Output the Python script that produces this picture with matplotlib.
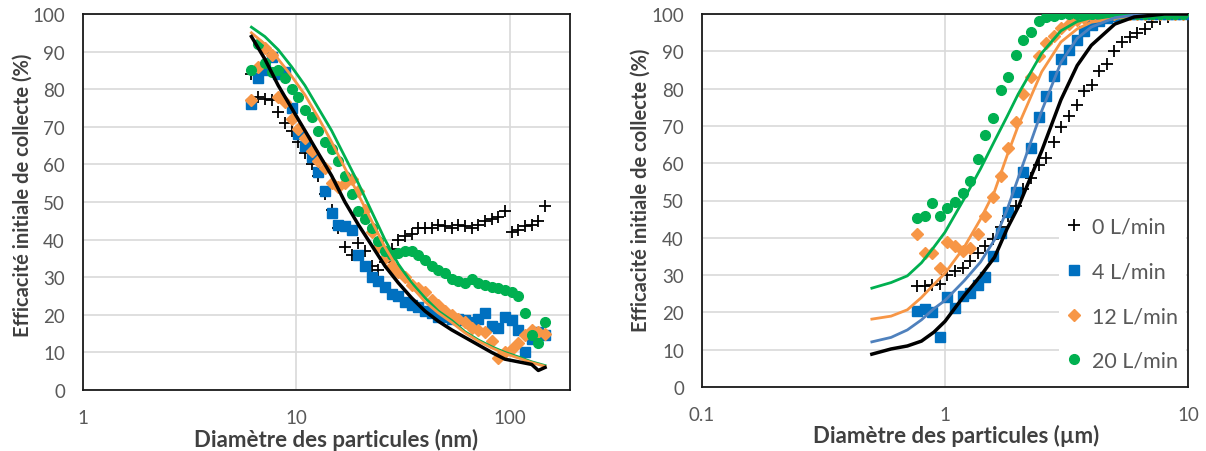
import matplotlib
matplotlib.use("Agg")
import matplotlib.pyplot as plt
from matplotlib.ticker import FixedLocator, FixedFormatter, NullLocator

plt.rcParams['font.family'] = ['Lato', 'DejaVu Sans']

# ---------- left panel : SMPS (nm) ----------
d_nm = [6.15, 6.61, 7.11, 7.64, 8.21, 8.82, 9.48, 10.19, 10.95, 11.76, 12.64, 13.58,
        14.60, 15.69, 16.86, 18.11, 19.47, 20.92, 22.48, 24.15, 25.95, 27.89, 29.97,
        32.20, 34.60, 37.19, 39.96, 42.94, 46.14, 49.58, 53.28, 57.25, 61.52, 66.11,
        71.04, 76.34, 82.03, 88.15, 94.72, 101.8, 109.4, 117.5, 126.3, 135.7, 145.9]
nm_0 = [84, 78, 77.5, 77, 74, 71, 69, 66, 63, 60, 57, 52, 48, 43, 38, 36, 39, 37, 33, 32,
        34, 37.5, 40, 41, 41.5, 43, 43, 43, 44, 43.5, 43, 44, 43.5, 43, 44, 45, 45.5, 46,
        47.5, 42, 42.5, 43.5, 44, 45, 49]
nm_4 = [76, 83, 85, 88.5, 84, 84.5, 75, 68, 65, 62, 58, 53, 47, 44, 43.5, 42.5, 36, 33,
        30, 29, 27.5, 25.5, 25, 23.5, 22.5, 22, 21, 20.5, 19.5, 19.5, 19, 19, 18.5, 18,
        19, 20.5, 17, 16.5, 19.5, 18.5, 16, 10, 13.5, 15.5, 14.5]
nm_12 = [77, 86, 91, 89, 78, 76.5, 72, 69.5, 67, 63.5, 61, 59, 55, 54, 55, 56, 53, 48,
         42, 38, 35, 33, 31.5, 30, 28, 27, 26, 24, 22.5, 21, 20, 19, 18, 16.5, 16, 15.5,
         13, 8.5, 10, 11, 12.5, 14.5, 16, 15.5, 15]
nm_20 = [85, 92, 87, 84.5, 85, 83, 80, 78, 74.5, 72.5, 69, 66, 64, 61, 57, 52, 47.5, 45.5,
         43, 39.5, 37, 36, 36.5, 37, 37, 36, 34.5, 33, 32, 31, 29.5, 29, 28.5, 29.5, 28.5,
         28, 27.5, 27, 26.5, 26, 25, 20.5, 14.5, 12.5, 18]

d_nm_model = [6.15, 7.11, 8.21, 9.48, 10.95, 12.64, 14.60, 16.86, 19.47, 22.48, 25.95,
              29.97, 34.60, 39.96, 46.14, 53.28, 61.52, 71.04, 82.03, 94.72, 109.4,
              126.3, 135.7, 145.9]
nm_model_0 = [94, 88, 81, 75, 69, 63, 57, 50, 44, 38.5, 33, 28.5, 24.5, 21, 18.3, 16, 14,
              12, 10, 8.2, 7.5, 6.8, 5.2, 6]
nm_model_12 = [95, 92, 88, 83.5, 78.5, 72.5, 66, 59, 52, 45, 38, 32, 27.5, 23.5, 20.5, 18,
               15.2, 13, 11.2, 9.7, 8.5, 7.3, 6.8, 6.3]
nm_model_20 = [96.5, 94, 90.5, 86, 81, 75, 69, 62, 55, 47.5, 40, 33.5, 28.5, 24.5, 21,
               18.5, 15.5, 13.3, 11.5, 10, 8.8, 7.5, 7, 6.5]

# ---------- right panel : APS (µm) ----------
d_um = [0.767, 0.824, 0.886, 0.952, 1.023, 1.100, 1.182, 1.270, 1.365, 1.466, 1.576,
        1.694, 1.820, 1.956, 2.102, 2.259, 2.427, 2.609, 2.803, 3.012, 3.236, 3.478,
        3.737, 4.017, 4.315, 4.638, 4.983, 5.356, 5.754, 6.184, 6.645, 7.141, 7.674,
        8.247, 8.861, 9.524]
um_0 = [27, 27, 27.4, 27.5, 30, 31, 32, 33.8, 35.8, 37.8, 39.7, 43, 45.8, 48.5, 53, 56,
        59.5, 61.5, 65.7, 69.7, 72.7, 75.5, 79.4, 81, 84.7, 86.6, 90, 92.5, 93.8, 95, 96,
        97.8, 98.7, 99.3, 100, 100]
um_4 = [20.5, 21, 20, 13.4, 24, 21.3, 24.5, 25.3, 27.3, 29.5, 35, 41.3, 47, 52.3, 57.6,
        64, 72.5, 78, 83.5, 88, 90.3, 93, 95.5, 97, 98, 99, 99.5, 100, 100, 100, 100, 100,
        100, 100, 100, 100]
um_12 = [41, 36, 36, 32, 39, 37.8, 36.5, 37.3, 41, 45.8, 51, 56.6, 64, 71, 78.5, 83,
         88.7, 92.2, 94.2, 96.2, 97.3, 98.3, 99, 99.5, 100, 100, 100, 100, 100, 100, 100,
         100, 100, 100, 100, 100]
um_20 = [45.3, 45.8, 49.3, 45.8, 48, 49.6, 52, 55.2, 61, 67.6, 72, 79.6, 83, 89, 93,
         95.2, 98.1, 99.2, 99.5, 100, 100, 100, 100, 100, 100, 100, 100, 100, 100, 100,
         100, 100, 100, 100, 100, 100]

d_um_model = [0.5, 0.6, 0.7, 0.8, 0.9, 1.0, 1.2, 1.4, 1.6, 1.8, 2.0, 2.5, 3, 3.5, 4, 5,
              6, 7, 8, 10]
um_model_0 = [8.8, 10.2, 11, 12.3, 14.7, 17.6, 24.5, 29.8, 34.8, 42.4, 48.2, 63.3, 77,
              86.2, 91.6, 97.3, 99.2, 99.6, 100, 100]
um_model_4 = [12.1, 13.3, 15.3, 18, 21, 23.2, 28.5, 33.5, 39.5, 47.5, 56, 74, 87, 93.5,
              96.5, 99, 99.7, 100, 100, 100]
um_model_12 = [18.2, 19, 20.7, 24, 27.5, 30.5, 37.5, 45, 52.5, 62, 70, 84.5, 92.5, 96,
               97.8, 98.8, 99.5, 99.8, 100, 100]
um_model_20 = [26.5, 28, 29.8, 33.3, 37.5, 41.5, 50.5, 58.5, 66, 72.5, 78.5, 89.5, 95.5,
               98, 99, 99.7, 100, 100, 100, 100]

labels = ["0 L/min", "4 L/min", "12 L/min", "20 L/min"]

c_black = "#000000"
c_blue = "#0070c0"
c_orange = "#f79646"
c_green = "#00b050"
c_blueline = "#4f81bd"
grid_c = "#d9d9d9"
tick_c = "#595959"
label_c = "#404040"

fig = plt.figure(figsize=(12.06, 4.52), dpi=100)
ax1 = fig.add_axes([83 / 1206, 61 / 452, 487 / 1206, 376 / 452])
ax2 = fig.add_axes([702 / 1206, 64 / 452, 486 / 1206, 373 / 452])


def style(ax, xmin, xmax, ticks, ticklabels, xlabel):
    ax.set_xscale("log")
    ax.set_xlim(xmin, xmax)
    ax.set_ylim(0, 100)
    ax.xaxis.set_major_locator(FixedLocator(ticks))
    ax.xaxis.set_major_formatter(FixedFormatter(ticklabels))
    ax.xaxis.set_minor_locator(NullLocator())
    ax.set_yticks(range(0, 101, 10))
    ax.grid(True, color=grid_c, linewidth=1.2, zorder=0)
    ax.set_axisbelow(True)
    ax.tick_params(axis="both", length=0, labelsize=13.5, colors=tick_c)
    ax.tick_params(axis="x", pad=14)
    ax.tick_params(axis="y", pad=13)
    for s in ax.spines.values():
        s.set_color("#1a1a1a")
        s.set_linewidth(1.3)
    ax.set_xlabel(xlabel, fontsize=16, fontweight="bold", color=label_c)
    ax.set_ylabel("Efficacité initiale de collecte (%)", fontsize=14.5,
                  fontweight="bold", color=label_c)


# left panel
ax1.plot(d_nm, nm_0, ls="none", marker="+", ms=9, mew=1.3, color=c_black, zorder=3)
ax1.plot(d_nm, nm_4, ls="none", marker="s", ms=6.5, color=c_blue, zorder=3)
ax1.plot(d_nm, nm_12, ls="none", marker="D", ms=6, color=c_orange, zorder=3)
ax1.plot(d_nm, nm_20, ls="none", marker="o", ms=7, color=c_green, zorder=3)
ax1.plot(d_nm_model, nm_model_20, color=c_green, lw=2, zorder=4)
ax1.plot(d_nm_model, nm_model_12, color=c_orange, lw=2, zorder=4)
ax1.plot(d_nm_model, nm_model_0, color=c_black, lw=2.5, zorder=5)
style(ax1, 1, 191, [1, 10, 100], ["1", "10", "100"], "Diamètre des particules (nm)")
ax1.xaxis.set_label_coords(0.52, -0.10)
ax1.yaxis.set_label_coords(-0.103, 0.52)

# right panel
h0, = ax2.plot(d_um, um_0, ls="none", marker="+", ms=9, mew=1.3, color=c_black, zorder=3)
h4, = ax2.plot(d_um, um_4, ls="none", marker="s", ms=6.5, color=c_blue, zorder=3)
h12, = ax2.plot(d_um, um_12, ls="none", marker="D", ms=6, color=c_orange, zorder=3)
h20, = ax2.plot(d_um, um_20, ls="none", marker="o", ms=7, color=c_green, zorder=3)
ax2.plot(d_um_model, um_model_20, color=c_green, lw=2, zorder=4)
ax2.plot(d_um_model, um_model_12, color=c_orange, lw=2, zorder=4)
ax2.plot(d_um_model, um_model_4, color=c_blueline, lw=2, zorder=4)
ax2.plot(d_um_model, um_model_0, color=c_black, lw=2.5, zorder=5)
style(ax2, 0.1, 10, [0.1, 1, 10], ["0.1", "1", "10"], "Diamètre des particules (µm)")
ax2.xaxis.set_label_coords(0.523, -0.10)
ax2.yaxis.set_label_coords(-0.105, 0.53)

leg = ax2.legend([h0, h4, h12, h20], labels, loc="lower left",
                 bbox_to_anchor=(0.735, 0.02), frameon=True, fancybox=False,
                 edgecolor="none", facecolor="white", framealpha=1,
                 fontsize=15.5, labelcolor=tick_c, handlelength=0.6,
                 handletextpad=0.5, labelspacing=1.15, borderpad=0.4,
                 borderaxespad=0)
leg.set_zorder(10)

fig.savefig("out.png", dpi=100)
